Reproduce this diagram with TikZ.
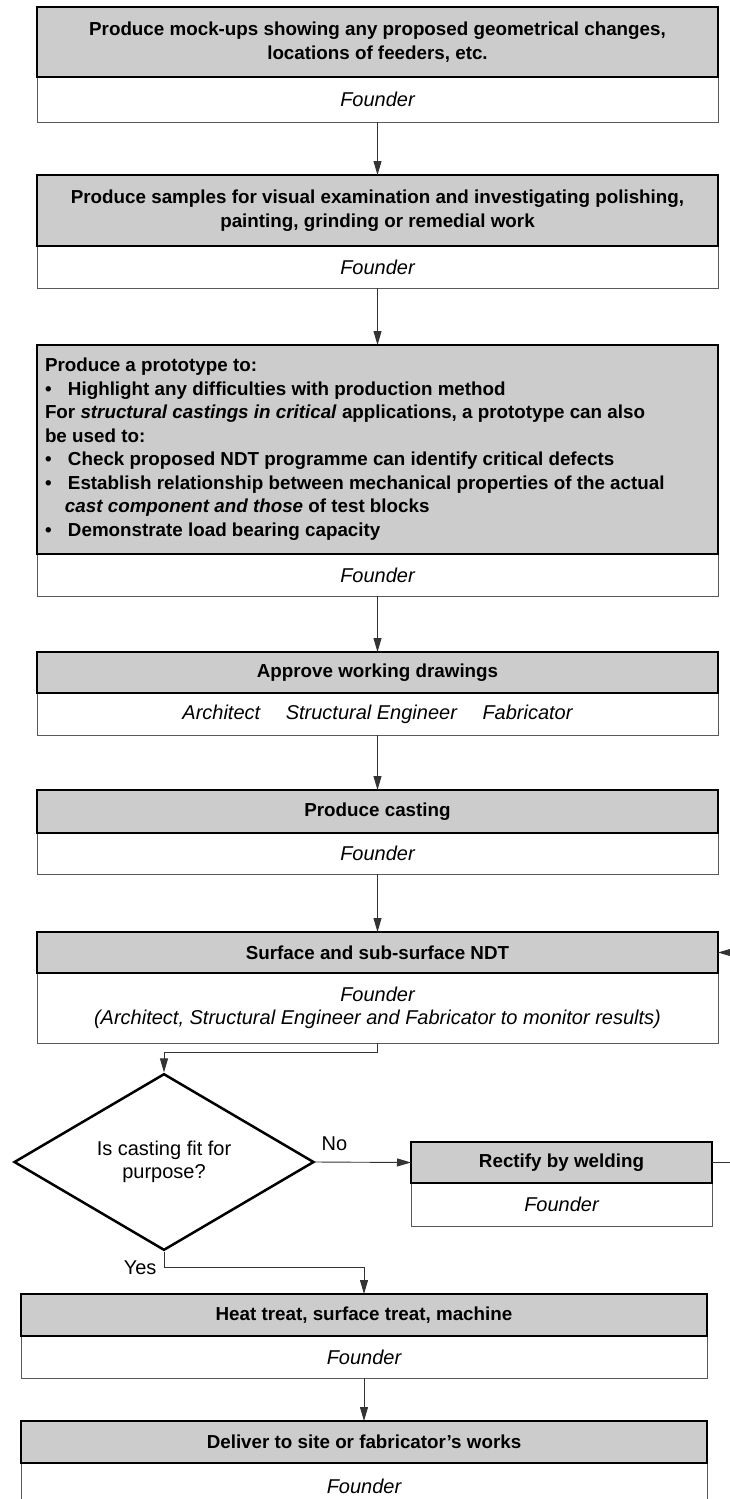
\documentclass[tikz,border=0pt]{standalone}
\usepackage{fontspec}
\setmainfont{Liberation Sans}
\usetikzlibrary{arrows.meta,positioning,shapes.geometric}

\definecolor{stepgray}{gray}{0.80}
\definecolor{linegray}{gray}{0.35}

\begin{document}
\begin{tikzpicture}[x=1pt,y=-1pt,>={Triangle[length=14pt,width=8pt]},
  every node/.style={font=\fontsize{20}{23.5}\selectfont},
  stepbox/.style={draw,line width=2.5pt,fill=stepgray,align=center,inner sep=0pt,outer sep=0pt,
    font=\fontsize{18.8}{23.5}\selectfont\bfseries},
  whobox/.style={draw=linegray,line width=0.9pt,fill=white,align=center,inner sep=0pt,outer sep=0pt,
    font=\fontsize{20}{23.5}\selectfont\itshape},
  flow/.style={->,draw=black!80,line width=0.9pt}]

\useasboundingbox (0,0) rectangle (730,1499);
\clip (0,0) rectangle (730,1499);

% name, centre x, top y, width, step height, who height, step text, who text
\def\stage#1#2#3#4#5#6#7#8{
  \node[whobox,minimum width=#4pt,minimum height=#6pt,anchor=north] (#1who) at (#2,#3+#5) {#8};
  \node[stepbox,minimum width=#4pt,minimum height=#5pt,anchor=north] (#1) at (#2,#3) {#7};
}
\def\blt{\makebox[23pt][l]{\textbullet}}

\stage{mock}{377.5}{7}{681}{70}{45}{Produce mock-ups showing any proposed geometrical changes,\\locations of feeders, etc.}{Founder}
\stage{samples}{377.5}{175}{681}{71}{42}{Produce samples for visual examination and investigating polishing,\\painting, grinding or remedial work}{Founder}
\stage{proto}{377.5}{345}{681}{209}{42}{\makebox[665pt][l]{\begin{tabular}{@{}l@{}}
  Produce a prototype to:\\
  \blt Highlight any difficulties with production method\\
  For \textit{structural castings in critical} applications, a prototype can also\\
  be used to:\\
  \blt Check proposed NDT programme can identify critical defects\\
  \blt Establish relationship between mechanical properties of the actual\\
  \hspace*{20pt}\textit{cast component and those} of test blocks\\
  \blt Demonstrate load bearing capacity
  \end{tabular}}}{Founder}
\stage{approve}{377.5}{652}{681}{41}{42}{Approve working drawings}{Architect\quad\ Structural Engineer\quad\ Fabricator}
\stage{cast}{377.5}{790}{681}{43}{41}{Produce casting}{Founder}
\stage{ndt}{377.5}{932}{681}{41}{70}{Surface and sub-surface NDT}{Founder\\(Architect, Structural Engineer and Fabricator to monitor results)}
\stage{weld}{561.5}{1142}{301}{41}{43}{Rectify by welding}{Founder}
\stage{heat}{364}{1294}{686}{42}{42}{Heat treat, surface treat, machine}{Founder}
\stage{deliver}{364}{1421}{686}{42}{46}{Deliver to site or fabricator's works}{Founder}

% decision
\node[draw,line width=2.5pt,shape=diamond,minimum width=300pt,minimum height=170pt,
  inner sep=0pt,align=center] (check) at (164,1162) {Is casting fit for\\purpose?};

% connectors
\foreach \src/\dst in {mockwho/samples,sampleswho/proto,protowho/approve,approvewho/cast,castwho/ndt,heatwho/deliver}
  \draw[flow] (\src.south) -- (\dst.north);

\draw[flow] (ndtwho.south) -- ++(0,9) -| (check.north);
\draw[flow] (check.east) -- node[pos=0.2,above=8pt] (nolbl) {No} (weld.west);
\draw[flow] (check.south) -- ++(0,16) coordinate (yesbend) -| (heat.north);
\node[left=4pt of yesbend] (yeslbl) {Yes};
\draw[flow] (weld.east) -- ++(40,0) coordinate (backbend) |- (ndt.east);

\end{tikzpicture}
\end{document}
